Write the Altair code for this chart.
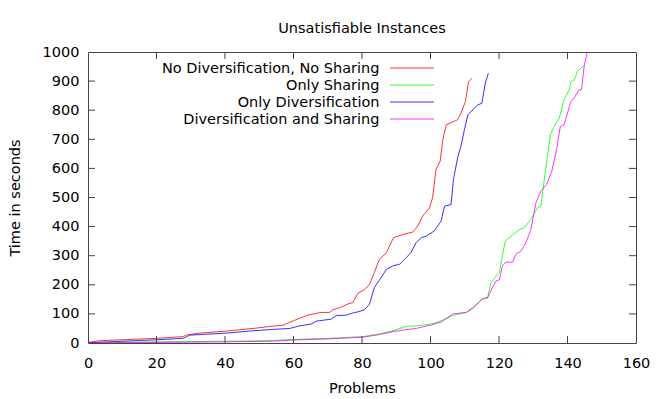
import altair as alt
import pandas as pd

FONT = "DejaVu Sans"

chart_title = "Unsatisfiable Instances"
series_names = [
    "No Diversification, No Sharing",
    "Only Sharing",
    "Only Diversification",
    "Diversification and Sharing",
]
series_colors = ["#ff0000", "#00ff00", "#0000ff", "#ff00ff"]

red_x = [0, 3.5, 20, 27.8, 28.8, 32.6, 40.4, 48.2, 53.1, 56.9, 60.3, 64.2, 68.1, 70.5, 71.5, 73.4,
         75.9, 77.3, 78.8, 80.7, 82.2, 83.6, 85.1, 87.1, 88.0, 89.2, 91.9, 94.8, 96.3, 97.7, 99.7,
         100.6, 101.6, 102.8, 103.6, 104.6, 107.9, 108.9, 110.2, 111.1, 112.1]
red_y = [2, 8, 16, 22, 28, 34, 41, 50, 57, 61, 78, 96, 105, 105, 114, 121, 134, 139, 171, 183, 202,
         242, 288, 310, 333, 362, 373, 381, 402, 436, 464, 499, 596, 624, 699, 750, 767, 790, 830,
         898, 910]

blue_x = [0, 20, 27.8, 29.7, 40.4, 48.2, 53.0, 58.9, 61.8, 65.2, 66.6, 71.0, 72.5, 75.4, 77.3, 78.8,
          80.7, 82.2, 83.6, 85.6, 87.1, 89.0, 91.0, 92.9, 94.3, 95.8, 97.3, 98.7, 101.1, 103.1, 104.1,
          106.0, 106.7, 108.0, 108.9, 109.9, 110.9, 112.3, 113.8, 115.0, 116.0, 116.9]
blue_y = [1, 11, 16, 27, 34, 42, 46, 50, 59, 65, 75, 82, 94, 96, 103, 107, 114, 134, 191, 225, 253,
          265, 271, 293, 311, 345, 362, 367, 385, 419, 470, 476, 562, 641, 676, 733, 784, 801, 818,
          824, 893, 927]

green_x = [0, 20, 40, 53, 60, 70, 80.3, 85.1, 89.0, 92.9, 95.8, 100.2, 103.1, 106.5, 110.4, 112.3,
           115.2, 116.6, 117.7, 120.1, 121.8, 125.9, 127.4, 129.3, 131.3, 132.2, 133.5, 135.0, 136.1,
           137.6, 139.0, 140.5, 141.0, 142.0, 142.9, 144.9]
green_y = [0, 4, 6, 8, 12, 16, 22, 31, 42, 57, 59, 65, 76, 94, 105, 122, 151, 153, 208, 242, 350,
           390, 396, 425, 465, 470, 585, 716, 744, 773, 836, 870, 898, 904, 933, 955]

magenta_x = [0, 20, 40, 53, 60, 70, 80.3, 85.1, 89.0, 92.9, 95.8, 100.2, 103.1, 106.5, 110.4, 112.3,
             115.2, 116.7, 118.1, 119.1, 120.1, 121.0, 122.0, 124.0, 124.9, 126.4, 127.9, 129.3,
             130.8, 132.2, 133.9, 135.4, 136.8, 137.9, 139.0, 141.0, 142.2, 143.4, 144.1, 144.9, 145.8]
magenta_y = [0, 2, 4, 6, 10, 14, 20, 29, 39, 46, 50, 62, 72, 100, 105, 118, 153, 156, 191, 213, 217,
             265, 278, 278, 305, 316, 345, 390, 482, 522, 545, 590, 664, 744, 750, 830, 847, 870, 870,
             955, 1000]

x_ticks = [0, 20, 40, 60, 80, 100, 120, 140, 160]
y_ticks = [0, 100, 200, 300, 400, 500, 600, 700, 800, 900, 1000]

W, H = 548, 291
TICK = 7
FS = 14.5

series_xy = [(red_x, red_y), (green_x, green_y), (blue_x, blue_y), (magenta_x, magenta_y)]
frames = []
for name, (xs, ys) in zip(series_names, series_xy):
    frames.append(pd.DataFrame({"problem": xs, "time": ys, "series": name,
                                "order": range(len(xs))}))
df = pd.concat(frames, ignore_index=True)

xscale = alt.Scale(domain=[0, 160], nice=False, zero=False)
yscale = alt.Scale(domain=[0, 1000], nice=False, zero=False)
cscale = alt.Scale(domain=series_names, range=series_colors)

xaxis = alt.Axis(title="Problems", values=x_ticks, format="d", grid=False, ticks=False,
                 tickSize=0, domain=False, labelPadding=13.5, labelFont=FONT, labelFontSize=FS,
                 labelColor="#000", titleFont=FONT, titleFontSize=FS,
                 titleFontWeight="normal", titleColor="#000",
                 titleBaseline="alphabetic", titleY=49, labelFlush=False)
yaxis = alt.Axis(title="Time in seconds", values=y_ticks, format="d", grid=False, ticks=False,
                 tickSize=0, domain=False, labelPadding=9, labelFont=FONT,
                 labelFontSize=FS, labelColor="#000", titleFont=FONT, titleFontSize=FS,
                 titleFontWeight="normal", titleColor="#000",
                 titleBaseline="alphabetic", titleX=-69, labelFlush=False)

lines = alt.Chart(df).mark_line(strokeWidth=1, strokeOpacity=0.8, clip=True).encode(
    x=alt.X("problem:Q", scale=xscale, axis=xaxis, title="Problems"),
    y=alt.Y("time:Q", scale=yscale, axis=yaxis, title="Time in seconds"),
    color=alt.Color("series:N", scale=cscale, legend=None),
    detail="series:N",
    order="order:Q",
)

inner_x = pd.DataFrame({"v": x_ticks[1:-1]})
inner_y = pd.DataFrame({"v": y_ticks[1:-1]})
tick_color = "#444444"

xt_bottom = alt.Chart(inner_x).mark_rule(color=tick_color, strokeWidth=1).encode(
    x=alt.X("v:Q", scale=xscale, axis=xaxis, title="Problems"),
    y=alt.value(H), y2=alt.value(H - TICK))
xt_top = alt.Chart(inner_x).mark_rule(color=tick_color, strokeWidth=1).encode(
    x=alt.X("v:Q", scale=xscale, axis=xaxis, title="Problems"),
    y=alt.value(0), y2=alt.value(TICK))
yt_left = alt.Chart(inner_y).mark_rule(color=tick_color, strokeWidth=1).encode(
    y=alt.Y("v:Q", scale=yscale, axis=yaxis, title="Time in seconds"),
    x=alt.value(0), x2=alt.value(TICK))
yt_right = alt.Chart(inner_y).mark_rule(color=tick_color, strokeWidth=1).encode(
    y=alt.Y("v:Q", scale=yscale, axis=yaxis, title="Time in seconds"),
    x=alt.value(W), x2=alt.value(W - TICK))

title_layer = alt.Chart(pd.DataFrame({"t": [chart_title]})).mark_text(
    align="center", baseline="alphabetic", font=FONT, fontSize=FS, color="#000").encode(
    text="t:N", x=alt.value(W / 2), y=alt.value(-19.5))

legend_layers = []
for i, (name, col) in enumerate(zip(series_names, series_colors)):
    ld = pd.DataFrame({"label": [name]})
    ypos = 16.5 + 17 * i
    legend_layers.append(
        alt.Chart(ld).mark_text(align="right", baseline="middle", font=FONT, fontSize=FS,
                                color="#000").encode(
            text="label:N", x=alt.value(291.5), y=alt.value(ypos)))
    legend_layers.append(
        alt.Chart(ld).mark_rule(color=col, strokeWidth=1, strokeOpacity=0.8).encode(
            x=alt.value(302), x2=alt.value(346), y=alt.value(16 + 17 * i)))

chart = alt.layer(lines, xt_bottom, xt_top, yt_left, yt_right, title_layer,
                  *legend_layers).properties(
    width=W, height=H,
    padding={"left": 80, "top": 44, "right": 18, "bottom": 53},
    autosize=alt.AutoSizeParams(type="none"),
).configure_view(stroke="#444444", strokeWidth=1)

chart.save("out.html", embed_options={"renderer": "svg", "actions": False})
